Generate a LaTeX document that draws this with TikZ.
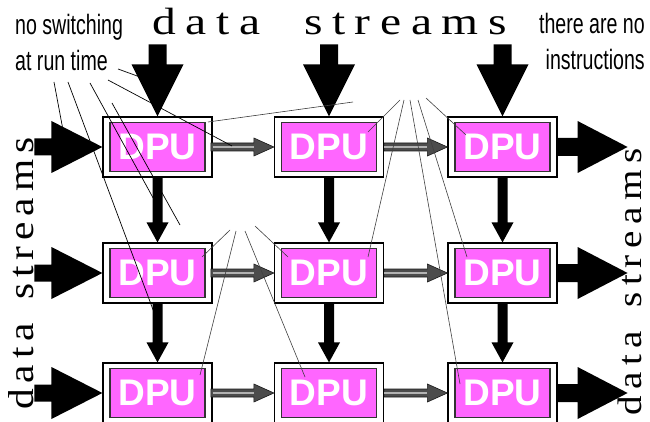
\documentclass[tikz,border=0pt]{standalone}
\usepackage{fontspec}
\usetikzlibrary{calc}
\newfontfamily\dsfont[FakeStretch=1.25]{Liberation Serif}
\newfontfamily\dsvfont[FakeStretch=1.15]{Liberation Serif}
\newfontfamily\narrowfont[FakeStretch=0.7]{Liberation Sans}
\newfontfamily\dpufont{Liberation Sans}
\definecolor{dpumag}{RGB}{255,102,255}
\newcommand\dstext[2]{d\kern#1a\kern#1t\kern#1a\kern#2s\kern#1t\kern#1r\kern#1e\kern#1a\kern#1m\kern#1s}
% #1 options, #2 tip, #3 angle, #4 total length, #5 half shaft, #6 half head, #7 head length
\newcommand\fatarrow[7]{%
  \path[#1,shift={#2},rotate=#3] (0,0) -- (-#7,#6) -- (-#7,#5) -- (-#4,#5) -- (-#4,-#5) -- (-#7,-#5) -- (-#7,-#6) -- cycle;}
\tikzset{
  outerbox/.style={draw=black, line width=1.2pt, fill=white, minimum width=109pt, minimum height=60pt, inner sep=0pt},
  innerbox/.style={draw=black!80, line width=1.2pt, fill=dpumag, minimum width=95pt, minimum height=49pt, inner sep=0pt,
    text=white, font=\dpufont\bfseries\fontsize{37}{40}\selectfont},
  bigfill/.style={fill=black},
  grayhead/.style={fill=black!70, draw=black!90, line width=0.6pt},
  leader/.style={line width=0.7pt, draw=black},
  fan/.style={line width=0.6pt, draw=black!75},
}
\begin{document}
\begin{tikzpicture}[x=1pt,y=-1pt]
\useasboundingbox (0,0) rectangle (650,422);
% boxes
\foreach \c/\x in {1/157.5,2/329,3/502.5}{
  \foreach \r/\y in {1/147,2/273,3/393}{
    \node[outerbox] (o\r\c) at (\x,\y) {};
    \node[innerbox] (d\r\c) at (\x,\y) {DPU};
  }
}
% top input arrows
\foreach \c in {1,2,3}{
  \fatarrow{bigfill}{(o1\c.north)}{-90}{72}{9}{26}{52}
}
% left input arrows
\foreach \r in {1,2,3}{
  \fatarrow{bigfill}{(o\r1.west)}{0}{68}{8.5}{26}{51}
}
% right output arrows
\foreach \r in {1,2,3}{
  \fatarrow{bigfill}{($(o\r3.east)+(70,0)$)}{0}{70}{9}{26}{50}
}
% vertical arrows between rows
\foreach \c in {1,2,3}{
  \fatarrow{bigfill}{(o2\c.north)}{-90}{66}{5}{11}{20}
  \fatarrow{bigfill}{(o3\c.north)}{-90}{60}{5}{11}{20}
}
% horizontal gray arrows between columns
\foreach \r in {1,2,3}{
  \foreach \a/\b in {1/2,2/3}{
    \fatarrow{grayhead}{(o\r\b.west)}{0}{63}{4}{9}{20}
    \draw[line width=1.6pt, black!30] (o\r\a.east) -- ($(o\r\b.west)+(-20,0)$);
  }
}
% texts
\node[anchor=base west, inner sep=0pt, font=\dsfont\fontsize{38}{40}\selectfont] (tds) at (152,35) {\dstext{9.6pt}{44pt}};
\node[anchor=base west, rotate=90, inner sep=0pt, font=\dsvfont\fontsize{36}{40}\selectfont] (lds) at (33,410) {\dstext{6pt}{23pt}};
\node[anchor=base west, rotate=90, inner sep=0pt, font=\dsvfont\fontsize{34}{40}\selectfont] (rds) at (641,416) {\dstext{6.5pt}{24pt}};
\node[anchor=north west, inner sep=0pt, align=left, font=\narrowfont\fontsize{28}{36}\selectfont] (lab1) at (15,14) {no switching\\at run time};
\node[anchor=north east, inner sep=0pt, align=right, font=\narrowfont\fontsize{28}{36}\selectfont] (lab2) at (645,13) {there are no\\instructions};
% leader coordinates (left label)
\coordinate (a1s) at (118,69);  \coordinate (a1e) at (140,77);
\coordinate (a2s) at (108,80);  \coordinate (a2e) at (232,146);
\coordinate (a3s) at (54,82);   \coordinate (a3e) at (63,130);
\coordinate (a4s) at (68,82);   \coordinate (a4e) at (158,323);
\coordinate (a5s) at (90,83);   \coordinate (a5e) at (157,205);
\coordinate (a6s) at (112,103); \coordinate (a6e) at (180,225);
\foreach \i in {1,...,6}{\draw[leader] (a\i s) -- (a\i e);}
% upper fan
\coordinate (b1s) at (353,102); \coordinate (b1e) at (208,122);
\coordinate (b2s) at (400,100); \coordinate (b2e) at (368,132);
\coordinate (b3s) at (404,100); \coordinate (b3e) at (368,257);
\coordinate (b4s) at (410,100); \coordinate (b4e) at (460,384);
\coordinate (b5s) at (418,100); \coordinate (b5e) at (467,257);
\coordinate (b6s) at (426,98);  \coordinate (b6e) at (466,135);
\foreach \i in {1,...,6}{\draw[fan] (b\i s) -- (b\i e);}
% middle fan
\coordinate (c1s) at (230,230); \coordinate (c1e) at (202,257);
\coordinate (c2s) at (236,231); \coordinate (c2e) at (200,375);
\coordinate (c3s) at (245,231); \coordinate (c3e) at (305,377);
\coordinate (c4s) at (255,226); \coordinate (c4e) at (288,257);
\foreach \i in {1,...,4}{\draw[fan] (c\i s) -- (c\i e);}
\end{tikzpicture}
\end{document}
